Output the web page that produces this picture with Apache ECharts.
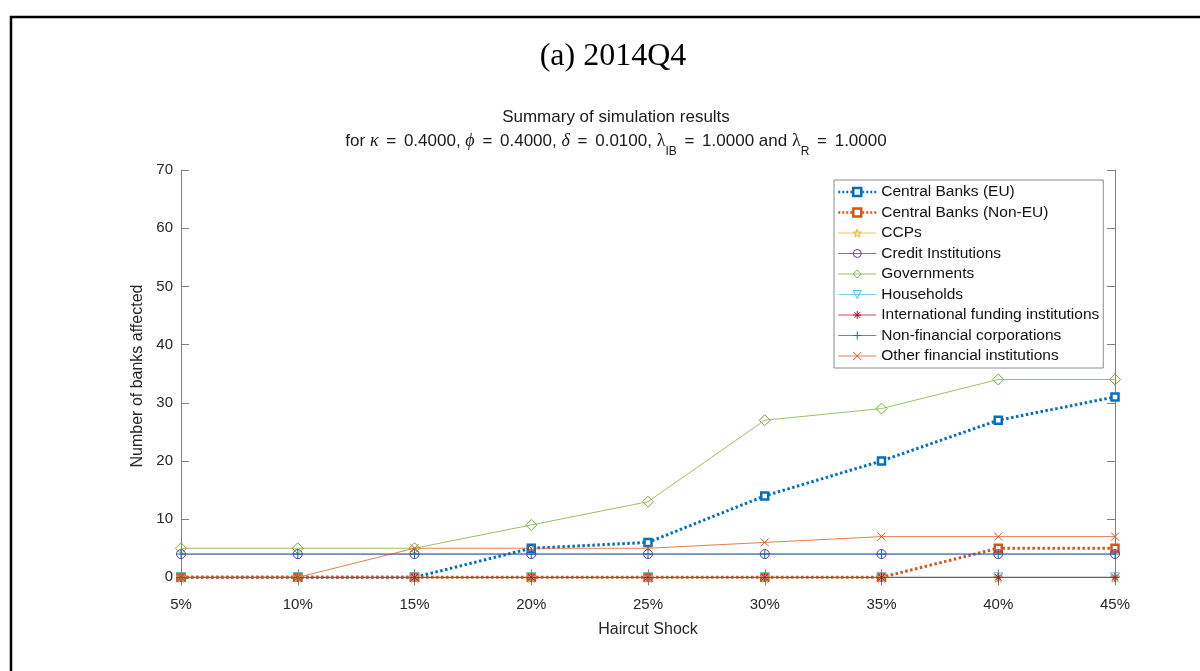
<!DOCTYPE html>
<html>
<head>
<meta charset="utf-8">
<script src="https://cdn.jsdelivr.net/npm/echarts@6/dist/echarts.min.js"></script>
<style>
html, body { margin: 0; background: #fff; }
#main { width: 1200px; height: 671px; }
</style>
</head>
<body>
<div id="main"></div>
<script>
// data
var shocks = ['5%', '10%', '15%', '20%', '25%', '30%', '35%', '40%', '45%'];
var yTicks = [0, 10, 20, 30, 40, 50, 60, 70];

var centralEU = [0, 0, 0, 5, 6, 14, 20, 27, 31];
var centralNonEU = [0, 0, 0, 0, 0, 0, 0, 5, 5];
var ccps = [0, 0, 0, 0, 0, 0, 0, 0, 0];
var creditInst = [4, 4, 4, 4, 4, 4, 4, 4, 4];
var governments = [5, 5, 5, 9, 13, 27, 29, 34, 34];
var households = [0, 0, 0, 0, 0, 0, 0, 0, 0];
var intlFunding = [0, 0, 0, 0, 0, 0, 0, 0, 0];
var nonFinCorp = [4, 4, 4, 4, 4, 4, 4, 4, 4];
var otherFin = [0, 0, 5, 5, 5, 6, 7, 7, 7];

var chart = echarts.init(document.getElementById('main'));

var sans = 'Liberation Sans, Arial, sans-serif';
var serif = 'Liberation Serif, Times New Roman, serif';

// matlab-like marker shapes
var starPath = 'path://M50,0 L61,35 L98,35 L68,57 L79,91 L50,70 L21,91 L32,57 L2,35 L39,35 Z';
var plusPath = 'path://M5,0 L5,10 M0,5 L10,5';
var crossPath = 'path://M0,0 L10,10 M10,0 L0,10';
var astPath = 'path://M5,0 L5,10 M0,5 L10,5 M1.5,1.5 L8.5,8.5 M8.5,1.5 L1.5,8.5';

var legendItems = [];

function thin(name, data, color, symbol, size, rotate) {
    legendItems.push({
        name: name,
        itemStyle: { color: 'rgba(255,255,255,0)', borderColor: color, borderWidth: 1 },
        lineStyle: { color: color, width: 1, opacity: 0.75 }
    });
    return {
        name: name,
        type: 'line',
        data: data,
        color: color,
        symbol: symbol,
        symbolSize: size,
        symbolRotate: rotate || 0,
        lineStyle: { color: color, width: 1, opacity: 0.75 },
        itemStyle: { color: 'rgba(255,255,255,0)', borderColor: color, borderWidth: 1 },
        emphasis: { disabled: true }
    };
}

function dotted(name, data, color) {
    legendItems.push({
        name: name,
        itemStyle: { color: '#fff', borderColor: color, borderWidth: 2.5 },
        lineStyle: { color: color, width: 2.5, type: [2, 2] }
    });
    return {
        name: name,
        type: 'line',
        data: data,
        color: color,
        symbol: 'rect',
        symbolSize: 7,
        lineStyle: { color: color, width: 3, type: [2.5, 2.5], cap: 'butt' },
        itemStyle: { color: '#fff', borderColor: color, borderWidth: 2.5 },
        emphasis: { disabled: true }
    };
}

var seriesList = [
    dotted('Central Banks (EU)', centralEU, '#0072BD'),
    dotted('Central Banks (Non-EU)', centralNonEU, '#D95319'),
    thin('CCPs', ccps, '#EDB120', starPath, 10),
    thin('Credit Institutions', creditInst, '#7E2F8E', 'circle', 9),
    thin('Governments', governments, '#77AC30', 'diamond', 11),
    thin('Households', households, '#4DBEEE', 'triangle', 9, 180),
    thin('International funding institutions', intlFunding, '#A2142F', astPath, 9),
    thin('Non-financial corporations', nonFinCorp, '#0072BD', plusPath, 10),
    thin('Other financial institutions', otherFin, '#D95319', crossPath, 8)
];

var option = {
    animation: false,
    backgroundColor: '#fff',
    title: [
        {
            text: '(a) 2014Q4',
            left: 608, top: 36, textAlign: 'center',
            textStyle: { fontFamily: serif, fontSize: 32, fontWeight: 'normal', color: '#000' }
        },
        {
            text: 'Summary of simulation results',
            left: 611, top: 104, textAlign: 'center',
            textStyle: { fontFamily: sans, fontSize: 17, fontWeight: 'normal', color: '#1a1a1a' }
        },
        {
            text: '{n|for }{gi|κ}{eq| = }{n|0.4000, }{gi|ϕ}{eq| = }{n|0.4000, }{gi|δ}{eq| = }{n|0.0100, }{g|λ}{sub|IB}{eq| = }{n|1.0000 and }{g|λ}{sub|R}{eq| = }{n|1.0000}',
            left: 611, top: 119, textAlign: 'center',
            textStyle: {
                fontFamily: sans, fontSize: 17, fontWeight: 'normal', color: '#1a1a1a',
                rich: {
                    n: { fontFamily: sans, fontSize: 17, color: '#1a1a1a', lineHeight: 34 },
                    eq: { fontFamily: sans, fontSize: 17, color: '#1a1a1a', lineHeight: 34, padding: [0, 3, 0, 3] },
                    gi: { fontFamily: serif, fontStyle: 'italic', fontSize: 18, color: '#1a1a1a', lineHeight: 34 },
                    g: { fontFamily: serif, fontSize: 18, color: '#1a1a1a', lineHeight: 34 },
                    sub: { fontFamily: sans, fontSize: 12, color: '#1a1a1a', lineHeight: 6, verticalAlign: 'bottom' }
                }
            }
        }
    ],
    legend: {
        orient: 'vertical',
        left: 834, top: 180,
        data: legendItems,
        itemWidth: 38, itemHeight: 10, itemGap: 4.5,
        padding: [4, 4, 4, 3],
        borderColor: '#8c8c8c', borderWidth: 1, borderRadius: 0,
        backgroundColor: '#fff',
        textStyle: { fontFamily: sans, fontSize: 15.5, color: '#111' }
    },
    grid: { left: 181, right: 85, top: 170, bottom: 89 },
    xAxis: [
        {
            type: 'category', data: shocks, boundaryGap: false,
            name: 'Haircut Shock', nameLocation: 'middle', nameGap: 40,
            nameTextStyle: { fontFamily: sans, fontSize: 16, color: '#262626' },
            axisLine: { lineStyle: { color: '#808080', width: 1 } },
            axisTick: { inside: true, length: 8, alignWithLabel: true, lineStyle: { color: '#808080' } },
            axisLabel: { fontFamily: sans, fontSize: 15, color: '#262626', margin: 15 },
            splitLine: { show: false }
        },
        {
            type: 'category', data: shocks, boundaryGap: false, position: 'top',
            axisLine: { lineStyle: { color: '#808080', width: 1 } },
            axisTick: { inside: true, length: 8, alignWithLabel: true, lineStyle: { color: '#808080' } },
            axisLabel: { show: false },
            splitLine: { show: false }
        }
    ],
    yAxis: [
        {
            type: 'value', min: -0.8, max: 70,
            name: 'Number of banks affected', nameLocation: 'middle', nameGap: 34,
            nameTextStyle: { fontFamily: sans, fontSize: 16, color: '#262626' },
            axisLine: { show: true, lineStyle: { color: '#808080', width: 1 } },
            axisTick: { show: true, inside: true, length: 8, customValues: yTicks, lineStyle: { color: '#808080' } },
            axisLabel: { fontFamily: sans, fontSize: 15, color: '#262626', margin: 8, customValues: yTicks },
            splitLine: { show: false }
        },
        {
            type: 'value', min: -0.8, max: 70, position: 'right',
            axisLine: { show: true, lineStyle: { color: '#808080', width: 1 } },
            axisTick: { show: true, inside: true, length: 8, customValues: yTicks, lineStyle: { color: '#808080' } },
            axisLabel: { show: false, customValues: yTicks },
            splitLine: { show: false }
        }
    ],
    graphic: [
        {
            type: 'rect', silent: true, z: 100,
            shape: { x: 11, y: 17, width: 1220, height: 700 },
            style: { fill: 'none', stroke: '#000', lineWidth: 2.5 }
        }
    ],
    series: seriesList
};

chart.setOption(option);
</script>
</body>
</html>
